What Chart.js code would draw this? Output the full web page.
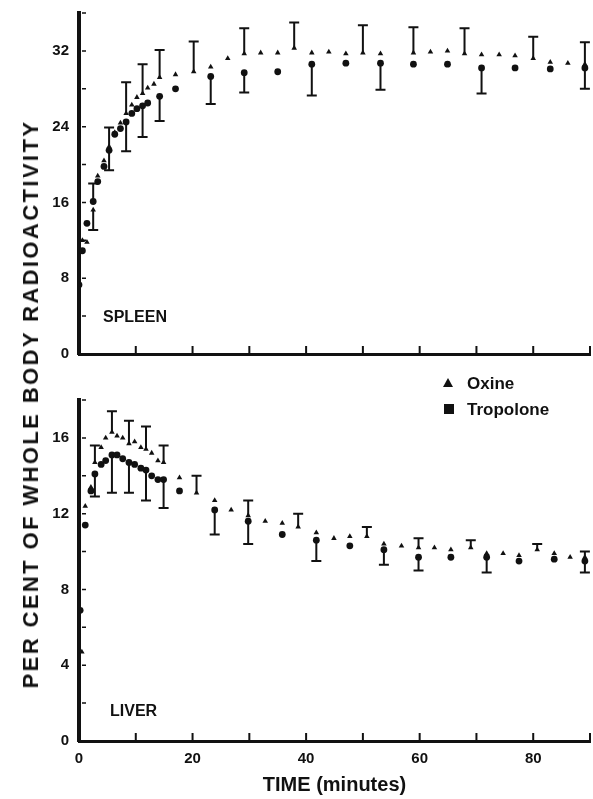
<!DOCTYPE html>
<html>
<head>
<meta charset="utf-8">
<script src="https://cdn.jsdelivr.net/npm/chart.js@4.4.1/dist/chart.umd.min.js"></script>
<style>
  body { margin: 0; background: #fff; }
  #wrap { position: relative; width: 593px; height: 799px; font-family: "Liberation Sans", Arial, sans-serif; font-weight: bold; color: #111; }
  canvas { position: absolute; left: 0; }
  #spleenChart { top: 0; }
  #liverChart { top: 372px; }
  .ytitle { position: absolute; left: 31px; top: 404px; transform: translate(-50%, -50%) rotate(-90deg); white-space: nowrap; font-size: 22px; letter-spacing: 2.4px; line-height: 22px; }
  .panel { position: absolute; font-size: 16px; line-height: 16px; }
  .leg { position: absolute; font-size: 17px; line-height: 17px; }
  .tri { position: absolute; width: 0; height: 0; border-left: 5px solid transparent; border-right: 5px solid transparent; border-bottom: 9px solid #111; }
  .sq { position: absolute; width: 10px; height: 10px; background: #111; }
</style>
</head>
<body>
<div id="wrap">
  <canvas id="spleenChart" width="593" height="372"></canvas>
  <canvas id="liverChart" width="593" height="427"></canvas>
  <div class="ytitle">PER CENT OF WHOLE BODY RADIOACTIVITY</div>
  <div class="panel" style="left:103px;top:309px;">SPLEEN</div>
  <div class="panel" style="left:110px;top:703px;">LIVER</div>
  <div class="tri" style="left:443px;top:378px;"></div>
  <div class="leg" style="left:467px;top:375px;">Oxine</div>
  <div class="sq" style="left:444px;top:404px;"></div>
  <div class="leg" style="left:467px;top:401px;">Tropolone</div>
</div>
<script>
// time axis
const xTickLabels = [0, 20, 40, 60, 80];
const spleenTickLabels = [0, 8, 16, 24, 32];
const liverTickLabels = [0, 4, 8, 12, 16];

// spleen, oxine (error: + up, - down, 0 none)
const spleenOxineT = [0, 0.6, 1.4, 2.5, 3.3, 4.4, 5.3, 6.3, 7.3, 8.3, 9.3, 10.2, 11.2, 12.1, 13.2, 14.2, 17, 20.2, 23.2, 26.2, 29.1, 32, 35, 37.9, 41, 44, 47, 50, 53.1, 58.9, 61.9, 64.9, 67.9, 70.9, 74, 76.8, 80, 83, 86.1, 89.1];
const spleenOxine  = [7.3, 12.0, 11.8, 15.2, 18.8, 20.4, 21.9, 23.4, 24.4, 25.4, 26.3, 27.1, 27.5, 28.1, 28.5, 29.2, 29.5, 29.8, 30.3, 31.2, 31.7, 31.8, 31.8, 32.3, 31.8, 31.9, 31.7, 31.8, 31.7, 31.8, 31.9, 32.0, 31.7, 31.6, 31.6, 31.5, 31.2, 30.8, 30.7, 30.6];
const spleenOxineErr = [0, 0, 0, -2.1, 0, 0, 2.0, 0, 0, 3.3, 0, 0, 3.1, 0, 0, 2.9, 0, 3.2, 0, 0, 2.7, 0, 0, 2.7, 0, 0, 0, 2.9, 0, 2.7, 0, 0, 2.7, 0, 0, 0, 2.3, 0, 0, 2.3];

// spleen, tropolone
const spleenTropT = [0, 0.6, 1.4, 2.5, 3.3, 4.4, 5.3, 6.3, 7.3, 8.3, 9.3, 10.2, 11.2, 12.1, 14.2, 17, 23.2, 29.1, 35, 41, 47, 53.1, 58.9, 64.9, 70.9, 76.8, 83, 89.1];
const spleenTrop  = [7.3, 10.9, 13.8, 16.1, 18.2, 19.8, 21.5, 23.2, 23.8, 24.5, 25.4, 25.9, 26.2, 26.5, 27.2, 28.0, 29.3, 29.7, 29.8, 30.6, 30.7, 30.7, 30.6, 30.6, 30.2, 30.2, 30.1, 30.2];
const spleenTropErr = [0, 0, 0, 1.9, 0, 0, -2.1, 0, 0, -3.1, 0, 0, -3.3, 0, -2.6, 0, -2.9, -2.1, 0, -3.3, 0, -2.8, 0, 0, -2.7, 0, 0, -2.2];

// liver, oxine
const liverOxineT = [0.5, 1.1, 2.1, 2.8, 3.9, 4.7, 5.8, 6.7, 7.7, 8.8, 9.8, 10.9, 11.8, 12.8, 13.9, 14.9, 17.7, 20.7, 23.9, 26.8, 29.8, 32.8, 35.8, 38.6, 41.8, 44.9, 47.7, 50.7, 53.7, 56.8, 59.8, 62.6, 65.5, 69, 71.8, 74.7, 77.5, 80.7, 83.7, 86.5, 89.1];
const liverOxine  = [4.7, 12.4, 13.4, 14.7, 15.5, 16.0, 16.3, 16.1, 16.0, 15.7, 15.8, 15.5, 15.4, 15.2, 14.8, 14.7, 13.9, 13.1, 12.7, 12.2, 11.9, 11.6, 11.5, 11.3, 11.0, 10.7, 10.8, 10.8, 10.4, 10.3, 10.2, 10.2, 10.1, 10.2, 9.9, 9.9, 9.8, 10.1, 9.9, 9.7, 9.7];
const liverOxineErr = [0, 0, 0, 0.9, 0, 0, 1.1, 0, 0, 1.2, 0, 0, 1.2, 0, 0, 0.9, 0, 0.9, 0, 0, 0.8, 0, 0, 0.7, 0, 0, 0, 0.5, 0, 0, 0.5, 0, 0, 0.4, 0, 0, 0, 0.3, 0, 0, 0.3];

// liver, tropolone
const liverTropT = [0.2, 1.1, 2.1, 2.8, 3.9, 4.7, 5.8, 6.7, 7.7, 8.8, 9.8, 10.9, 11.8, 12.8, 13.9, 14.9, 17.7, 23.9, 29.8, 35.8, 41.8, 47.7, 53.7, 59.8, 65.5, 71.8, 77.5, 83.7, 89.1];
const liverTrop  = [6.9, 11.4, 13.2, 14.1, 14.6, 14.8, 15.1, 15.1, 14.9, 14.7, 14.6, 14.4, 14.3, 14.0, 13.8, 13.8, 13.2, 12.2, 11.6, 10.9, 10.6, 10.3, 10.1, 9.7, 9.7, 9.7, 9.5, 9.6, 9.5];
const liverTropErr = [0, 0, 0, -1.2, 0, 0, -2.0, 0, 0, -1.6, 0, 0, -1.6, 0, 0, -1.5, 0, -1.3, -1.2, 0, -1.1, 0, -0.8, -0.7, 0, -0.8, 0, 0, -0.6];

const ink = '#111';

function pts(t, v) { return t.map((x, i) => ({ x: x, y: v[i] })); }

// one-sided error bars with a cap at the far end
const errorBars = {
  id: 'errorBars',
  afterDatasetsDraw(chart) {
    const ctx = chart.ctx, y = chart.scales.y;
    chart.data.datasets.forEach((ds, i) => {
      const meta = chart.getDatasetMeta(i);
      ds.errors.forEach((e, j) => {
        if (!e) return;
        const p = meta.data[j];
        const yEnd = y.getPixelForValue(ds.data[j].y + e);
        ctx.save();
        ctx.strokeStyle = ink;
        ctx.lineWidth = 2;
        ctx.beginPath();
        ctx.moveTo(p.x, p.y);
        ctx.lineTo(p.x, yEnd);
        ctx.moveTo(p.x - 5, yEnd);
        ctx.lineTo(p.x + 5, yEnd);
        ctx.stroke();
        ctx.restore();
      });
    });
  }
};

// tick marks pointing into the plot
const innerTicks = {
  id: 'innerTicks',
  afterDraw(chart) {
    const { ctx, chartArea: a, scales: { x, y } } = chart;
    ctx.save();
    ctx.strokeStyle = ink;
    ctx.lineWidth = 1.5;
    ctx.beginPath();
    y.ticks.forEach(t => {
      if (t.value === 0) return;
      const py = y.getPixelForValue(t.value);
      ctx.moveTo(a.left + 3, py);
      ctx.lineTo(a.left + 7, py);
    });
    ctx.stroke();
    ctx.lineWidth = 2;
    ctx.beginPath();
    x.ticks.forEach(t => {
      if (t.value === 0) return;
      const px = x.getPixelForValue(t.value);
      ctx.moveTo(px, a.bottom);
      ctx.lineTo(px, a.bottom - 8);
    });
    ctx.stroke();
    ctx.restore();
  }
};

function makePanel(id, oxT, ox, oxErr, trT, tr, trErr, yMax, yStep, yLabels, bottom) {
  new Chart(document.getElementById(id), {
    type: 'scatter',
    data: {
      datasets: [
        { label: 'Oxine', data: pts(oxT, ox), errors: oxErr, pointStyle: 'triangle', pointRadius: 3.2, backgroundColor: ink, borderColor: ink, borderWidth: 0 },
        { label: 'Tropolone', data: pts(trT, tr), errors: trErr, pointStyle: 'circle', pointRadius: 3.4, backgroundColor: ink, borderColor: ink, borderWidth: 0 }
      ]
    },
    options: {
      responsive: false,
      animation: false,
      layout: { autoPadding: false, padding: { top: bottom ? 28 : 13, right: 3, left: 0, bottom: 0 } },
      plugins: { legend: { display: false }, tooltip: { enabled: false } },
      scales: {
        x: {
          type: 'linear', min: 0, max: 90,
          grid: { display: false, drawTicks: false },
          border: { display: true, color: ink, width: 3 },
          ticks: {
            display: bottom, stepSize: 10, padding: 9, color: ink,
            font: { family: 'Liberation Sans', size: 15, weight: 'bold' },
            callback: v => xTickLabels.includes(v) ? v : ''
          },
          title: {
            display: bottom, text: 'TIME (minutes)', color: ink,
            font: { family: 'Liberation Sans', size: 20, weight: 'bold' },
            padding: { top: 0, bottom: 2 }
          },
          afterFit: s => { s.height = bottom ? 58 : 18; s.paddingLeft = 0; s.paddingRight = 0; }
        },
        y: {
          min: 0, max: yMax,
          grid: { display: false, drawTicks: false },
          border: { display: true, color: ink, width: 4 },
          ticks: {
            stepSize: yStep, padding: 10, color: ink,
            font: { family: 'Liberation Sans', size: 15, weight: 'bold' },
            callback: v => yLabels.includes(v) ? v : ''
          },
          afterFit: s => { s.width = 79; s.paddingTop = 0; s.paddingBottom = 0; }
        }
      }
    },
    plugins: [errorBars, innerTicks]
  });
}

makePanel('spleenChart', spleenOxineT, spleenOxine, spleenOxineErr, spleenTropT, spleenTrop, spleenTropErr, 36, 4, spleenTickLabels, false);
makePanel('liverChart', liverOxineT, liverOxine, liverOxineErr, liverTropT, liverTrop, liverTropErr, 18, 2, liverTickLabels, true);
</script>
</body>
</html>
